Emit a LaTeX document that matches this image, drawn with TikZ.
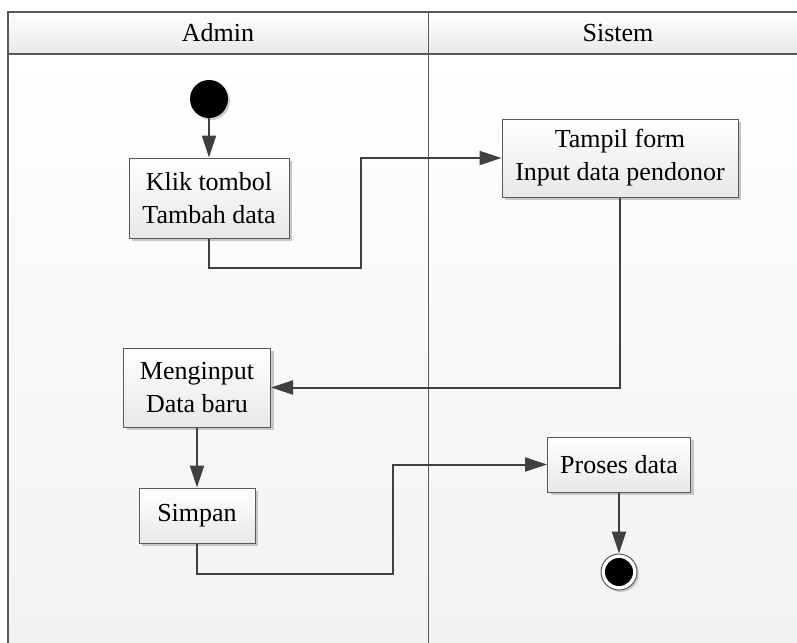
\documentclass[tikz,border=0pt]{standalone}
\usepackage{fontspec}
\setmainfont{Liberation Serif}
\usetikzlibrary{arrows.meta,shadows}
\definecolor{linegray}{HTML}{404040}
\definecolor{framegray}{HTML}{595959}
\definecolor{lanegray}{HTML}{F2F2F2}
\tikzset{
  act/.style={draw=framegray, line width=1pt, top color=white, bottom color=black!9,
    drop shadow={shadow xshift=3pt, shadow yshift=-3pt, fill=black!22, opacity=1},
    align=center, inner sep=0pt},
  flow/.style={draw=linegray, line width=2pt, -{Triangle[length=22pt,width=14pt]}},
}
\begin{document}
\begin{tikzpicture}[x=1pt, y=-1pt, font=\fontsize{26}{33}\selectfont, line join=miter]
    \def\xmin{8}\def\xmax{800}\def\ymin{12}\def\ymax{645}\def\head{54}\def\lane{428}
    \useasboundingbox (0,0) rectangle (797,642);
    \shade[top color=white, bottom color=lanegray] (\xmin,\head) rectangle (\xmax,\ymax);
    \shade[top color=white, bottom color=black!9] (\xmin,\ymin) rectangle (\xmax,\head);
    \draw[framegray, line width=1.2pt] (\xmin,\ymax) -- (\xmin,\ymin) -- (\xmax,\ymin);
    \draw[framegray, line width=2pt] (\xmin,\head) -- (\xmax,\head);
    \draw[framegray, line width=1pt] (\lane,\ymin) -- (\lane,\ymax);
    \node (admin) at (218,33) {Admin};
    \node (sistem) at (618,33) {Sistem};
    \node[circle, fill=black, minimum size=38pt, inner sep=0pt,
      drop shadow={shadow xshift=2pt, shadow yshift=-2pt, fill=black!20, opacity=1}] (start) at (209,99) {};
    \node[act, minimum width=160pt, minimum height=80pt] (klik) at (209,198) {Klik tombol\\Tambah data};
    \node[act, minimum width=236pt, minimum height=78pt] (tampil) at (620,158) {Tampil form\\Input data pendonor};
    \node[act, minimum width=147pt, minimum height=79pt] (input) at (197,387.5) {Menginput\\Data baru};
    \node[act, minimum width=116pt, minimum height=55pt] (simpan) at (197,515.5) {Simpan};
    \node[act, minimum width=143pt, minimum height=55pt] (proses) at (619,464.5) {Proses data};
    \node[circle, draw=framegray, fill=white, line width=1pt, minimum size=36pt, inner sep=0pt,
      drop shadow={shadow xshift=2pt, shadow yshift=-2pt, fill=black!20, opacity=1}] (end) at (619,572) {};
    \node[circle, fill=black, minimum size=28pt, inner sep=0pt] (endfill) at (end.center) {};
    \coordinate (k1) at (361,268);
    \coordinate (s1) at (393,574);
    \draw[flow] (start.south) -- (klik.north);
    \draw[flow] (klik.south) |- (k1) |- (tampil.west);
    \draw[flow] (tampil.south) |- (input.east);
    \draw[flow] (input.south) -- (simpan.north);
    \draw[flow] (simpan.south) |- (s1) |- (proses.west);
    \draw[flow] (proses.south) -- (end.north);
\end{tikzpicture}
\end{document}
